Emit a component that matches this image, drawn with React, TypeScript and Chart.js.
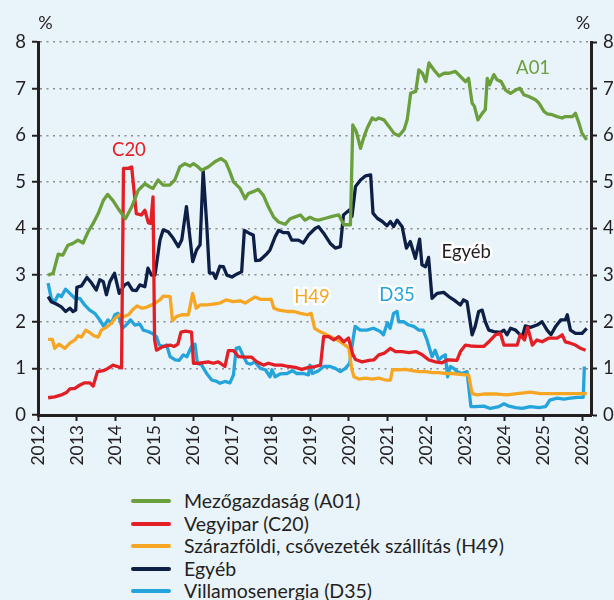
import React, { useEffect, useRef } from "react";
import { Chart, registerables } from "chart.js";

Chart.register(...registerables);

const FONT = "Lato, 'Open Sans', 'DejaVu Sans', sans-serif";
const TEXT = "#231F20";

const years = [2012, 2013, 2014, 2015, 2016, 2017, 2018, 2019, 2020, 2021, 2022, 2023, 2024, 2025, 2026];
const yTicks = [0, 1, 2, 3, 4, 5, 6, 7, 8];

const seriesNames = [
  "Mezőgazdaság (A01)",
  "Vegyipar (C20)",
  "Szárazföldi, csővezeték szállítás (H49)",
  "Egyéb",
  "Villamosenergia (D35)",
];
const seriesColors = ["#6A9F3C", "#E31F26", "#F6A623", "#0E1F45", "#25A4DC"];

const a01: [number, number][] = [
  [2012.26, 3.0], [2012.39, 3.04], [2012.52, 3.45], [2012.64, 3.43], [2012.77, 3.64], [2012.9, 3.68],
  [2013.03, 3.75], [2013.16, 3.69], [2013.29, 3.93], [2013.42, 4.11], [2013.55, 4.32], [2013.68, 4.6],
  [2013.79, 4.73], [2013.93, 4.6], [2014.06, 4.43], [2014.25, 4.21], [2014.41, 4.46], [2014.58, 4.82],
  [2014.75, 4.96], [2014.88, 4.89], [2014.96, 4.86], [2015.09, 5.04], [2015.22, 4.93], [2015.39, 4.93],
  [2015.52, 5.04], [2015.65, 5.32], [2015.78, 5.39], [2015.91, 5.34], [2016.0, 5.39], [2016.12, 5.32],
  [2016.21, 5.25], [2016.38, 5.32], [2016.55, 5.43], [2016.71, 5.5], [2016.83, 5.43], [2016.94, 5.21],
  [2017.03, 5.0], [2017.2, 4.86], [2017.33, 4.64], [2017.41, 4.75], [2017.54, 4.79], [2017.67, 4.84],
  [2017.8, 4.71], [2017.93, 4.46], [2018.06, 4.25], [2018.19, 4.14], [2018.36, 4.09], [2018.49, 4.21],
  [2018.62, 4.25], [2018.75, 4.29], [2018.87, 4.18], [2019.0, 4.24], [2019.13, 4.19], [2019.22, 4.18],
  [2019.4, 4.22], [2019.57, 4.26], [2019.74, 4.29], [2019.87, 4.08], [2020.04, 4.08], [2020.1, 6.22],
  [2020.19, 6.08], [2020.3, 5.72], [2020.39, 5.97], [2020.47, 6.15], [2020.6, 6.37], [2020.69, 6.33],
  [2020.77, 6.37], [2020.9, 6.33], [2021.03, 6.19], [2021.16, 6.04], [2021.29, 5.99], [2021.42, 6.12],
  [2021.5, 6.33], [2021.59, 6.9], [2021.72, 6.94], [2021.8, 7.4], [2021.89, 7.33], [2021.98, 7.15],
  [2022.06, 7.55], [2022.19, 7.4], [2022.32, 7.27], [2022.45, 7.33], [2022.58, 7.33], [2022.74, 7.37],
  [2022.87, 7.26], [2023.0, 7.15], [2023.08, 7.22], [2023.17, 6.69], [2023.23, 6.62], [2023.32, 6.33],
  [2023.43, 6.47], [2023.51, 6.55], [2023.56, 7.22], [2023.62, 7.08], [2023.73, 7.3], [2023.81, 7.19],
  [2023.92, 7.15], [2024.03, 6.97], [2024.16, 6.9], [2024.29, 6.97], [2024.4, 7.01], [2024.5, 6.87],
  [2024.63, 6.83], [2024.8, 6.76], [2024.89, 6.69], [2025.02, 6.51], [2025.1, 6.46], [2025.23, 6.44],
  [2025.36, 6.4], [2025.49, 6.37], [2025.57, 6.4], [2025.75, 6.4], [2025.83, 6.47], [2025.92, 6.26],
  [2026.0, 6.04], [2026.12, 5.9],
];

const c20: [number, number][] = [
  [2012.26, 0.37], [2012.43, 0.39], [2012.6, 0.43], [2012.73, 0.48], [2012.82, 0.56], [2012.95, 0.57],
  [2013.07, 0.64], [2013.2, 0.69], [2013.33, 0.69], [2013.42, 0.62], [2013.53, 0.93], [2013.68, 0.95],
  [2013.8, 1.0], [2013.93, 1.07], [2014.04, 1.04], [2014.15, 1.01], [2014.2, 5.29], [2014.32, 5.29],
  [2014.41, 5.32], [2014.53, 4.32], [2014.66, 4.29], [2014.75, 4.39], [2014.84, 4.12], [2014.9, 4.11],
  [2014.96, 4.68], [2015.0, 1.61], [2015.05, 1.39], [2015.2, 1.46], [2015.4, 1.5], [2015.5, 1.47],
  [2015.6, 1.52], [2015.68, 1.78], [2015.8, 1.8], [2015.95, 1.78], [2016.0, 1.11], [2016.15, 1.11],
  [2016.38, 1.14], [2016.51, 1.11], [2016.64, 1.14], [2016.81, 1.04], [2016.9, 1.38], [2017.03, 1.38],
  [2017.16, 1.25], [2017.33, 1.24], [2017.5, 1.24], [2017.63, 1.14], [2017.8, 1.07], [2017.93, 1.11],
  [2018.1, 1.07], [2018.27, 1.07], [2018.44, 1.04], [2018.62, 1.02], [2018.79, 0.98], [2018.96, 1.02],
  [2019.13, 1.04], [2019.27, 1.07], [2019.35, 1.68], [2019.48, 1.68], [2019.61, 1.61], [2019.74, 1.68],
  [2019.87, 1.57], [2019.99, 1.65], [2020.1, 1.3], [2020.17, 1.19], [2020.34, 1.14], [2020.52, 1.17],
  [2020.64, 1.18], [2020.77, 1.29], [2020.9, 1.32], [2021.07, 1.43], [2021.2, 1.36], [2021.37, 1.36],
  [2021.55, 1.34], [2021.72, 1.36], [2021.89, 1.29], [2022.06, 1.18], [2022.23, 1.14], [2022.4, 1.12],
  [2022.53, 1.18], [2022.61, 1.18], [2022.78, 1.17], [2022.87, 1.36], [2023.0, 1.5], [2023.13, 1.48],
  [2023.3, 1.47], [2023.47, 1.47], [2023.6, 1.57], [2023.77, 1.72], [2023.9, 1.75], [2023.99, 1.5],
  [2024.16, 1.5], [2024.33, 1.5], [2024.41, 1.72], [2024.52, 1.61], [2024.6, 1.88], [2024.72, 1.5],
  [2024.84, 1.61], [2024.97, 1.57], [2025.15, 1.65], [2025.36, 1.65], [2025.49, 1.72], [2025.57, 1.57],
  [2025.7, 1.54], [2025.83, 1.5], [2025.96, 1.43], [2026.09, 1.39],
];

const h49: [number, number][] = [
  [2012.26, 1.62], [2012.37, 1.62], [2012.43, 1.43], [2012.54, 1.52], [2012.69, 1.43], [2012.82, 1.54],
  [2012.95, 1.61], [2013.03, 1.7], [2013.12, 1.67], [2013.23, 1.82], [2013.33, 1.77], [2013.44, 1.7],
  [2013.55, 1.67], [2013.63, 1.82], [2013.76, 1.88], [2013.89, 1.97], [2013.98, 2.07], [2014.1, 2.15],
  [2014.18, 2.1], [2014.33, 2.15], [2014.43, 2.25], [2014.55, 2.34], [2014.68, 2.29], [2014.79, 2.31],
  [2014.92, 2.36], [2015.01, 2.4], [2015.14, 2.47], [2015.22, 2.55], [2015.4, 2.54], [2015.46, 2.02],
  [2015.56, 2.11], [2015.7, 2.15], [2015.87, 2.15], [2015.98, 2.61], [2016.07, 2.29], [2016.17, 2.36],
  [2016.34, 2.36], [2016.51, 2.38], [2016.68, 2.4], [2016.85, 2.47], [2017.02, 2.43], [2017.2, 2.45],
  [2017.33, 2.4], [2017.46, 2.47], [2017.59, 2.53], [2017.72, 2.48], [2017.87, 2.48], [2018.0, 2.48],
  [2018.07, 2.29], [2018.2, 2.25], [2018.41, 2.22], [2018.58, 2.22], [2018.76, 2.18], [2018.93, 2.15],
  [2019.03, 2.18], [2019.12, 1.86], [2019.25, 1.79], [2019.36, 1.75], [2019.53, 1.68], [2019.7, 1.61],
  [2019.87, 1.52], [2020.0, 1.43], [2020.07, 1.0], [2020.13, 0.82], [2020.26, 0.77], [2020.43, 0.79],
  [2020.6, 0.77], [2020.77, 0.79], [2020.94, 0.75], [2021.07, 0.75], [2021.12, 0.97], [2021.29, 0.97],
  [2021.46, 0.98], [2021.63, 0.95], [2021.8, 0.93], [2021.98, 0.93], [2022.15, 0.91], [2022.32, 0.91],
  [2022.49, 0.89], [2022.66, 0.89], [2023.0, 0.86], [2023.08, 0.86], [2023.17, 0.46], [2023.3, 0.43],
  [2023.47, 0.45], [2023.81, 0.45], [2024.07, 0.43], [2024.33, 0.46], [2024.67, 0.49], [2024.93, 0.46],
  [2025.19, 0.46], [2025.53, 0.46], [2025.88, 0.46], [2026.12, 0.46],
];

const egyeb: [number, number][] = [
  [2012.26, 2.54], [2012.34, 2.43], [2012.47, 2.38], [2012.6, 2.32], [2012.71, 2.22], [2012.82, 2.29],
  [2012.9, 2.22], [2012.97, 2.25], [2013.0, 2.74], [2013.12, 2.77], [2013.26, 2.95], [2013.38, 2.83],
  [2013.5, 2.68], [2013.59, 2.9], [2013.68, 2.86], [2013.76, 2.58], [2013.85, 2.86], [2013.97, 3.04],
  [2014.09, 2.61], [2014.23, 2.79], [2014.32, 2.83], [2014.43, 2.68], [2014.53, 2.67], [2014.62, 2.79],
  [2014.75, 2.75], [2014.83, 3.15], [2014.92, 3.0], [2015.01, 3.0], [2015.14, 3.76], [2015.22, 3.97],
  [2015.35, 3.93], [2015.48, 3.79], [2015.61, 3.61], [2015.7, 3.76], [2015.82, 4.47], [2015.98, 3.29],
  [2016.08, 3.54], [2016.17, 3.65], [2016.25, 5.24], [2016.34, 4.11], [2016.41, 3.05], [2016.51, 3.04],
  [2016.57, 2.93], [2016.68, 3.19], [2016.77, 3.18], [2016.86, 3.0], [2016.99, 2.96], [2017.11, 3.02],
  [2017.24, 3.07], [2017.31, 3.96], [2017.45, 3.89], [2017.54, 3.86], [2017.6, 3.31], [2017.71, 3.32],
  [2017.89, 3.46], [2017.97, 3.54], [2018.1, 3.82], [2018.19, 3.96], [2018.32, 3.91], [2018.44, 3.91],
  [2018.53, 3.75], [2018.7, 3.75], [2018.83, 3.69], [2018.96, 3.86], [2019.13, 4.0], [2019.22, 4.04],
  [2019.35, 3.9], [2019.52, 3.68], [2019.65, 3.58], [2019.78, 3.61], [2019.86, 4.29], [2020.02, 4.4],
  [2020.08, 4.26], [2020.17, 4.9], [2020.3, 5.04], [2020.43, 5.13], [2020.56, 5.15], [2020.62, 4.33],
  [2020.73, 4.22], [2020.86, 4.15], [2020.98, 4.06], [2021.07, 4.15], [2021.15, 4.04], [2021.24, 4.18],
  [2021.37, 4.04], [2021.48, 3.58], [2021.58, 3.72], [2021.71, 3.36], [2021.82, 3.77], [2021.88, 3.22],
  [2021.97, 3.18], [2022.05, 3.38], [2022.14, 2.5], [2022.27, 2.61], [2022.44, 2.63], [2022.57, 2.54],
  [2022.7, 2.47], [2022.87, 2.36], [2022.95, 2.47], [2023.04, 2.43], [2023.17, 1.72], [2023.25, 1.9],
  [2023.34, 2.22], [2023.43, 2.25], [2023.51, 2.0], [2023.6, 1.82], [2023.73, 1.79], [2023.9, 1.77],
  [2023.99, 1.82], [2024.07, 1.72], [2024.16, 1.86], [2024.29, 1.82], [2024.37, 1.75], [2024.46, 1.68],
  [2024.54, 1.91], [2024.67, 1.88], [2024.84, 1.93], [2024.97, 2.0], [2025.1, 1.82], [2025.2, 1.72],
  [2025.32, 1.9], [2025.45, 2.04], [2025.57, 2.04], [2025.62, 2.15], [2025.7, 1.82], [2025.83, 1.75],
  [2026.0, 1.75], [2026.12, 1.86],
];

const d35: [number, number][] = [
  [2012.26, 2.83], [2012.34, 2.5], [2012.43, 2.43], [2012.52, 2.58], [2012.6, 2.54], [2012.71, 2.7],
  [2012.82, 2.61], [2012.95, 2.5], [2013.08, 2.5], [2013.2, 2.36], [2013.33, 2.25], [2013.46, 2.18],
  [2013.59, 2.04], [2013.69, 1.9], [2013.8, 2.04], [2013.89, 1.97], [2013.98, 2.15], [2014.06, 2.18],
  [2014.17, 1.86], [2014.27, 1.93], [2014.38, 2.04], [2014.49, 1.93], [2014.62, 1.95], [2014.71, 1.82],
  [2014.83, 1.79], [2014.96, 1.74], [2015.05, 1.68], [2015.12, 1.5], [2015.22, 1.47], [2015.31, 1.5],
  [2015.4, 1.25], [2015.53, 1.18], [2015.63, 1.17], [2015.74, 1.29], [2015.83, 1.25], [2015.95, 1.47],
  [2016.04, 1.52], [2016.1, 1.11], [2016.21, 1.07], [2016.34, 0.89], [2016.47, 0.75], [2016.6, 0.72],
  [2016.68, 0.68], [2016.81, 0.72], [2016.94, 0.69], [2017.03, 0.86], [2017.1, 1.43], [2017.18, 1.45],
  [2017.29, 1.25], [2017.38, 1.11], [2017.47, 1.09], [2017.58, 1.14], [2017.72, 1.0], [2017.85, 0.97],
  [2017.97, 0.82], [2018.02, 0.97], [2018.1, 0.82], [2018.23, 0.88], [2018.41, 0.89], [2018.54, 0.95],
  [2018.66, 0.89], [2018.83, 0.89], [2018.96, 0.86], [2019.0, 1.07], [2019.06, 0.89], [2019.22, 0.95],
  [2019.35, 1.04], [2019.52, 1.04], [2019.65, 1.0], [2019.78, 0.93], [2019.91, 1.0], [2020.02, 1.11],
  [2020.08, 1.47], [2020.16, 1.9], [2020.29, 1.82], [2020.46, 1.82], [2020.63, 1.86], [2020.81, 1.79],
  [2020.89, 1.72], [2020.99, 1.98], [2021.06, 1.86], [2021.15, 2.18], [2021.24, 2.22], [2021.28, 2.0],
  [2021.41, 2.0], [2021.54, 1.93], [2021.67, 1.9], [2021.8, 1.82], [2021.91, 1.82], [2022.01, 1.61],
  [2022.14, 1.25], [2022.22, 1.39], [2022.31, 1.18], [2022.4, 1.25], [2022.48, 1.29], [2022.54, 0.82],
  [2022.61, 1.04], [2022.7, 1.0], [2022.78, 0.93], [2022.91, 0.89], [2023.04, 0.93], [2023.14, 0.18],
  [2023.25, 0.18], [2023.47, 0.19], [2023.64, 0.14], [2023.86, 0.18], [2023.99, 0.24], [2024.12, 0.19],
  [2024.29, 0.16], [2024.46, 0.14], [2024.67, 0.18], [2024.89, 0.16], [2025.06, 0.18], [2025.17, 0.32],
  [2025.36, 0.36], [2025.53, 0.34], [2025.7, 0.36], [2025.88, 0.38], [2026.03, 0.38], [2026.06, 1.04],
];

const seriesData = [a01, c20, h49, egyeb, d35];

// in-chart series labels (anchored in data coordinates)
const seriesLabels = [
  { text: "C20", x: 2014.34, y: 5.69, color: seriesColors[1], halo: false },
  { text: "A01", x: 2024.74, y: 7.45, color: seriesColors[0], halo: false },
  { text: "H49", x: 2019.05, y: 2.53, color: seriesColors[2], halo: true },
  { text: "D35", x: 2021.24, y: 2.58, color: seriesColors[4], halo: true },
  { text: "Egyéb", x: 2023.02, y: 3.5, color: TEXT, halo: true },
];

const X_MIN = 2012;
const X_MAX = 2026.23;

export default function App() {
  const ref = useRef<HTMLCanvasElement | null>(null);

  useEffect(() => {
    if (!ref.current) return;
    const labelPlugin = {
      id: "seriesLabels",
      afterDatasetsDraw(chart: any) {
        const { ctx, scales, chartArea } = chart;
        const x = scales.x;
        const y = scales.y;
        ctx.save();
        ctx.font = `18.5px ${FONT}`;
        ctx.textAlign = "center";
        ctx.textBaseline = "middle";
        for (const l of seriesLabels) {
          const px = x.getPixelForValue(l.x);
          const py = y.getPixelForValue(l.y);
          if (l.halo) {
            ctx.lineWidth = 5;
            ctx.lineJoin = "round";
            ctx.strokeStyle = "#FFFFFF";
            ctx.strokeText(l.text, px, py);
          }
          ctx.fillStyle = l.color;
          ctx.fillText(l.text, px, py);
        }
        ctx.fillStyle = TEXT;
        ctx.font = `18px ${FONT}`;
        ctx.fillText("%", chartArea.left + 7.5, chartArea.top - 19);
        ctx.fillText("%", chartArea.right - 8, chartArea.top - 19);
        ctx.restore();
      },
    };

    const chart = new Chart(ref.current, {
      type: "line",
      data: {
        datasets: seriesData.map((d, i) => ({
          label: seriesNames[i],
          data: d.map(([x, y]) => ({ x, y })),
          borderColor: seriesColors[i],
          backgroundColor: seriesColors[i],
          borderWidth: 3.3,
          pointRadius: 0,
          tension: 0,
          borderJoinStyle: "round" as const,
          fill: false,
        })),
      },
      options: {
        animation: false,
        responsive: false,
        layout: { padding: { top: 42, left: 0, right: 0, bottom: 0 } },
        plugins: { legend: { display: false }, tooltip: { enabled: false } },
        scales: {
          x: {
            type: "linear",
            min: X_MIN,
            max: X_MAX,
            afterFit: (s: any) => {
              s.height = 65;
            },
            afterBuildTicks: (s: any) => {
              s.ticks = years.map((v) => ({ value: v }));
            },
            ticks: {
              minRotation: 90,
              maxRotation: 90,
              autoSkip: false,
              padding: 4,
              color: TEXT,
              font: { family: FONT, size: 17.5 },
              callback: (v: any) => String(v),
            },
            grid: {
              drawOnChartArea: false,
              drawTicks: true,
              tickLength: 6,
              tickColor: TEXT,
              tickWidth: 2,
            },
            border: { display: true, color: TEXT, width: 3 },
          },
          y: {
            type: "linear",
            position: "left",
            min: 0,
            max: 8,
            afterFit: (s: any) => {
              s.width = 38;
            },
            afterBuildTicks: (s: any) => {
              s.ticks = yTicks.map((v) => ({ value: v }));
            },
            ticks: {
              padding: 6,
              color: TEXT,
              font: { family: FONT, size: 18.5 },
              callback: (v: any) => String(v),
            },
            grid: {
              color: (c: any) => (c.tick && c.tick.value === 0 ? "rgba(0,0,0,0)" : "#8A8C8E"),
              lineWidth: 1.5,
              drawTicks: true,
              tickLength: 6,
              tickColor: TEXT,
              tickWidth: 2,
              tickBorderDash: [],
            },
            border: { display: true, color: TEXT, width: 3, dash: [2, 4.5] },
          },
          y2: {
            type: "linear",
            position: "right",
            min: 0,
            max: 8,
            afterFit: (s: any) => {
              s.width = 23;
            },
            afterBuildTicks: (s: any) => {
              s.ticks = yTicks.map((v) => ({ value: v }));
            },
            ticks: {
              padding: 6,
              color: TEXT,
              font: { family: FONT, size: 18.5 },
              callback: (v: any) => String(v),
            },
            grid: {
              drawOnChartArea: false,
              drawTicks: true,
              tickLength: 6,
              tickColor: TEXT,
              tickWidth: 2,
            },
            border: { display: true, color: TEXT, width: 3 },
          },
        },
      },
      plugins: [labelPlugin],
    });
    return () => chart.destroy();
  }, []);

  return (
    <div
      style={{
        position: "fixed",
        left: 0,
        top: 0,
        width: 614,
        height: 600,
        background: "#E9F3FA",
        overflow: "hidden",
        fontFamily: FONT,
      }}
    >
      <canvas ref={ref} width={614} height={480} style={{ position: "absolute", left: 0, top: 0, width: 614, height: 480 }} />
      <div style={{ position: "absolute", left: 131, top: 490 }}>
        {seriesNames.map((n, i) => (
          <div key={n} style={{ display: "flex", alignItems: "center", height: 22.5 }}>
            <span
              style={{
                display: "inline-block",
                width: 40,
                height: 4,
                borderRadius: 2,
                background: seriesColors[i],
                marginRight: 13,
              }}
            />
            <span style={{ fontSize: 19.5, color: TEXT, whiteSpace: "nowrap", lineHeight: "22px" }}>{n}</span>
          </div>
        ))}
      </div>
    </div>
  );
}
